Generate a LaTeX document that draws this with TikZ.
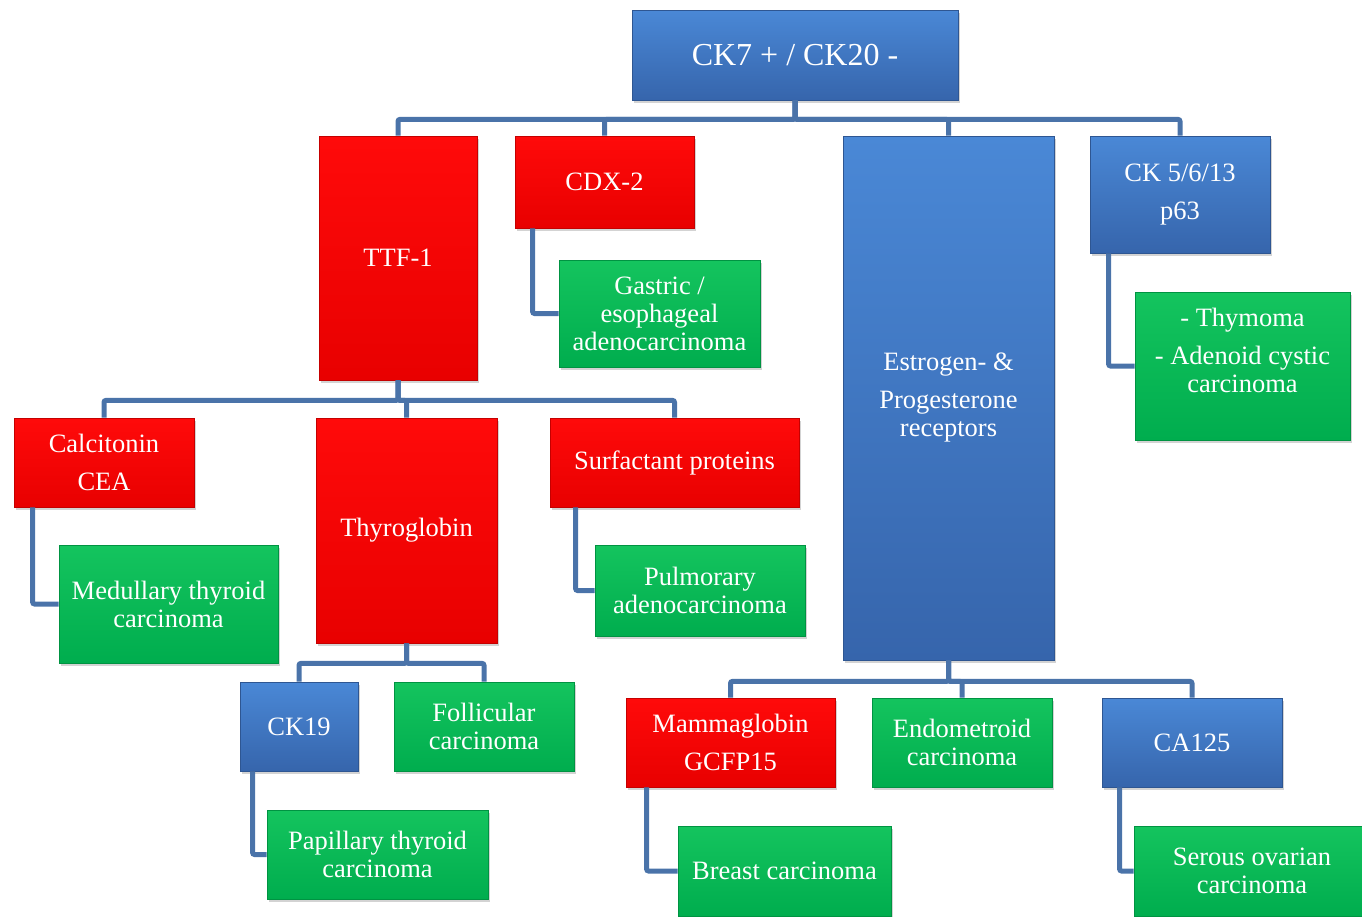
\documentclass[tikz,border=0pt]{standalone}
\usepackage{fontspec}
\setmainfont{Liberation Serif}
\usetikzlibrary{shadows}
\definecolor{linkblue}{HTML}{4A73A9}
\definecolor{boxblue}{HTML}{4A88D6}
\definecolor{boxbluedark}{HTML}{3665AC}
\definecolor{boxred}{HTML}{FF0A0A}
\definecolor{boxreddark}{HTML}{E80000}
\definecolor{boxgreen}{HTML}{14C45E}
\definecolor{boxgreendark}{HTML}{00AD4E}
\begin{document}
\begin{tikzpicture}[x=1pt, y=-1pt,
    box/.style={inner sep=0pt, align=center, text=white,
      font=\fontsize{26.5}{28}\selectfont,
      drop shadow={shadow xshift=2pt, shadow yshift=-3pt, opacity=0.35}},
    sz/.style 2 args={minimum width=#1, minimum height=#2},
    bbox/.style={box, top color=boxblue, bottom color=boxbluedark,
      draw=boxbluedark!85!black, line width=0.8},
    rbox/.style={box, top color=boxred, bottom color=boxreddark,
      draw=boxreddark!85!black, line width=0.8},
    gbox/.style={box, top color=boxgreen, bottom color=boxgreendark,
      draw=boxgreendark!85!black, line width=0.8},
    link/.style={draw=linkblue, line width=5, rounded corners=2}]
  \useasboundingbox (0,0) rectangle (1362,916);

  % markers
  \node[bbox, sz={326}{90}, font=\fontsize{32}{36}\selectfont] (ck) at (795,55) {CK7 + / CK20 -};
  \node[rbox, sz={158}{244}] (ttf) at (398,258) {TTF-1};
  \node[rbox, sz={179}{92}] (cdx) at (604.5,182) {CDX-2};
  \node[bbox, sz={211}{524}] (er) at (948.5,398) {Estrogen- \&\\[10pt]Progesterone\\receptors};
  \node[bbox, sz={180}{117}] (cks) at (1180,194.5) {CK 5/6/13\\[10pt]p63};
  \node[rbox, sz={180}{89}] (cal) at (104,462.5) {Calcitonin\\[10pt]CEA};
  \node[rbox, sz={181}{225}] (thg) at (406.5,530.5) {Thyroglobin};
  \node[rbox, sz={249}{89}] (sur) at (674.5,462.5) {Surfactant proteins};
  \node[bbox, sz={118}{89}] (ck19) at (299,726.5) {CK19};
  \node[rbox, sz={209}{89}] (mam) at (730.5,742.5) {Mammaglobin\\[10pt]GCFP15};
  \node[bbox, sz={180}{89}] (ca) at (1192,742.5) {CA125};

  % tumours
  \node[gbox, sz={201}{107}] (gas) at (659.5,313.5) {Gastric /\\esophageal\\adenocarcinoma};
  \node[gbox, sz={215}{148}] (thy) at (1242.5,366) {};
  \node[align=center, text=white, font=\fontsize{26.5}{28}\selectfont] (thytxt) at (1242.5,350)
    {- Thymoma\\[10pt]- Adenoid cystic\\carcinoma};
  \node[gbox, sz={219}{118}] (med) at (168.5,604) {Medullary thyroid\\carcinoma};
  \node[gbox, sz={210}{91}] (pul) at (700,590.5) {Pulmorary\\adenocarcinoma};
  \node[gbox, sz={180}{89}] (fol) at (484,726.5) {Follicular\\carcinoma};
  \node[gbox, sz={221}{89}] (pap) at (377.5,854.5) {Papillary thyroid\\carcinoma};
  \node[gbox, sz={180}{89}] (endo) at (962,742.5) {Endometroid\\carcinoma};
  \node[gbox, sz={213}{90}] (bre) at (784.5,871) {Breast carcinoma};
  \node[gbox, sz={236}{90}] (ser) at (1252,871) {Serous ovarian\\carcinoma};

  % tree
  \foreach \c in {ttf,cdx,er,cks}
    \draw[link] (ck.south) -- ++(0,19) -| (\c.north);
  \foreach \c in {cal,thg,sur}
    \draw[link] (ttf.south) -- ++(0,20) -| (\c.north);
  \foreach \c in {ck19,fol}
    \draw[link] (thg.south) -- ++(0,20) -| (\c.north);
  \foreach \c in {mam,endo,ca}
    \draw[link] (er.south) -- ++(0,21) -| (\c.north);

  % side links
  \foreach \a/\b/\d in {cdx/gas/18, cks/thy/19, cal/med/19, sur/pul/26,
                        ck19/pap/13, mam/bre/21, ca/ser/18}
    \draw[link] ([xshift=\d]\a.south west) |- (\b.west);
\end{tikzpicture}
\end{document}
